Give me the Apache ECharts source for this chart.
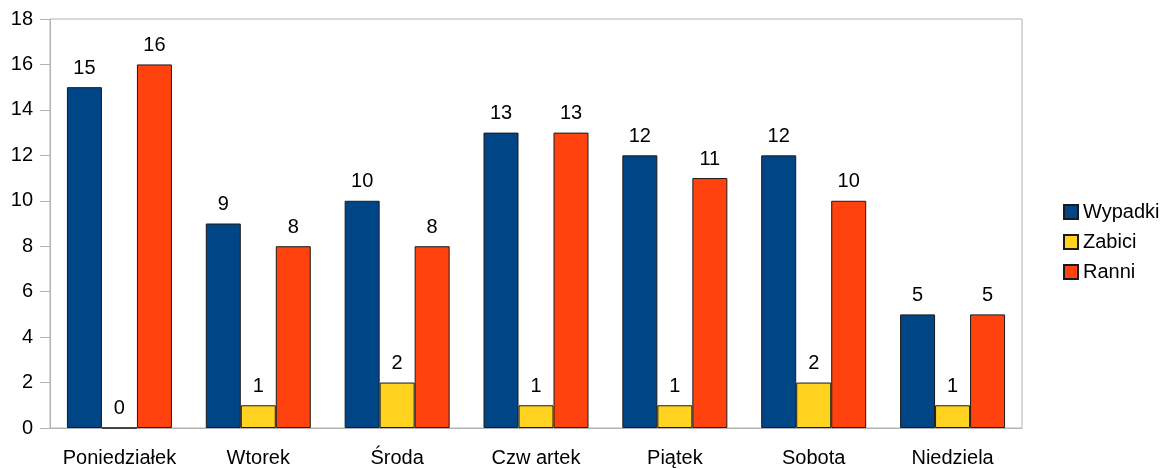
<!DOCTYPE html>
<html>
<head>
<meta charset="utf-8">
<script src="https://cdn.jsdelivr.net/npm/echarts@6/dist/echarts.min.js"></script>
<style>
    html, body { margin: 0; padding: 0; background: #fff; }
    #main { width: 1166px; height: 469px; }
</style>
</head>
<body>
<div id="main"></div>
<script>
    var days = ['Poniedziałek', 'Wtorek', 'Środa', 'Czw artek', 'Piątek', 'Sobota', 'Niedziela'];
    var wypadki = [15, 9, 10, 13, 12, 12, 5];
    var zabici = [0, 1, 2, 1, 1, 2, 1];
    var ranni = [16, 8, 8, 13, 11, 10, 5];

    var font = 'Liberation Sans';

    function bar(name, data, color) {
        return {
            name: name,
            type: 'bar',
            data: data,
            barWidth: 35,
            barGap: '0%',
            itemStyle: {color: color, borderColor: '#1a1a1a', borderWidth: 1},
            label: {
                show: true,
                position: 'top',
                distance: 9,
                color: '#000',
                fontFamily: font,
                fontSize: 20
            }
        }
    }

    var myChart = echarts.init(document.getElementById('main'));
    myChart.setOption({
        animation: false,
        textStyle: {fontFamily: font},
        grid: {
            left: 50, right: 144, top: 19, bottom: 41,
            show: true, borderColor: '#b3b3b3', borderWidth: 1
        },
        legend: {
            orient: 'vertical',
            left: 1058,
            top: 197,
            itemWidth: 14,
            itemHeight: 14,
            itemGap: 10,
            icon: 'rect',
            textStyle: {fontSize: 20, color: '#000', fontFamily: font},
            data: ['Wypadki', 'Zabici', 'Ranni']
        },
        xAxis: {
            type: 'category',
            data: days,
            axisLine: {lineStyle: {color: '#b3b3b3'}},
            axisTick: {length: 9, lineStyle: {color: '#b3b3b3'}},
            axisLabel: {interval: 0, color: '#000', fontSize: 20, margin: 20, fontFamily: font}
        },
        yAxis: {
            type: 'value',
            min: 0,
            max: 18,
            interval: 2,
            axisLine: {show: true, lineStyle: {color: '#b3b3b3'}},
            axisTick: {show: true, length: 10, lineStyle: {color: '#b3b3b3'}},
            splitLine: {show: false},
            axisLabel: {color: '#000', fontSize: 20, margin: 17, fontFamily: font}
        },
        series: [
            bar('Wypadki', wypadki, '#004586'),
            bar('Zabici', zabici, '#ffd320'),
            bar('Ranni', ranni, '#ff420e')
        ]
    });
</script>
</body>
</html>
